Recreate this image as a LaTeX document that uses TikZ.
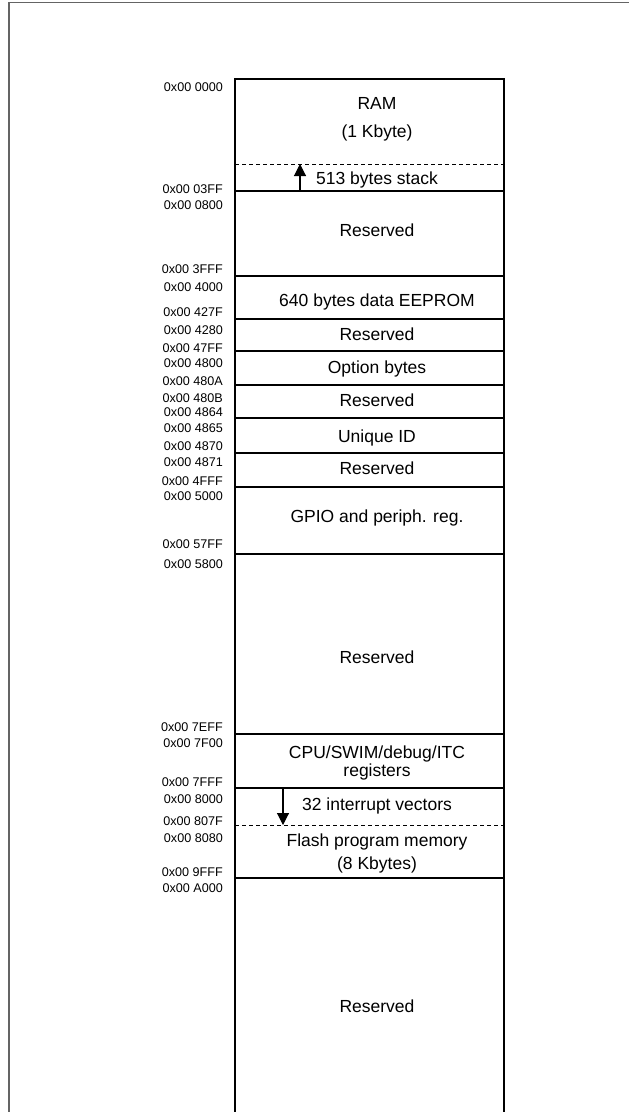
\documentclass[tikz,border=0pt]{standalone}
\usepackage{fontspec}
\setmainfont{Liberation Sans}
\usetikzlibrary{arrows.meta}
\definecolor{framegray}{RGB}{100,100,100}
\tikzset{
  boxline/.style={line width=1.4pt, black},
  dashline/.style={line width=0.9pt, black, dash pattern=on 4pt off 3pt},
  frameline/.style={line width=1.4pt, framegray},
  regtext/.style={font=\fontsize{17.5}{20}\selectfont, anchor=center, inner sep=0pt, text height=12.5pt, text depth=0pt},
  addr/.style={font=\fontsize{12.6}{14}\selectfont, anchor=east, inner sep=0pt, text height=9pt, text depth=0pt},
  ptr/.style={line width=1.1pt, -{Triangle[width=12pt,length=12pt]}}
}
\begin{document}
\begin{tikzpicture}[x=1pt,y=-1pt]
\useasboundingbox (0,0) rectangle (629,1112);
% outer frame
\draw[frameline] (9,1112) -- (9,2.5) -- (629,2.5);
% memory column
\draw[boxline] (235,1112) -- (235,79) -- (504,79) -- (504,1112);
\foreach \yy in {191,276,319,351,385,418,453,487,554,734,788,878}
  \draw[boxline] (235,\yy) -- (504,\yy);
\draw[dashline] (235,164) -- (504,164);
\draw[dashline] (235,825) -- (504,825);
% region texts
\node[regtext] (ram) at (377,103) {RAM};
\node[regtext] (ramsz) at (377,131) {(1 Kbyte)};
\node[regtext] (stack) at (377,178) {513 bytes stack};
\node[regtext] (res1) at (377,230) {Reserved};
\node[regtext] (eep) at (377,300) {640 bytes data EEPROM};
\node[regtext] (res2) at (377,334) {Reserved};
\node[regtext] (opt) at (377,367) {Option bytes};
\node[regtext] (res3) at (377,400) {Reserved};
\node[regtext] (uid) at (377,436) {Unique ID};
\node[regtext] (res4) at (377,468) {Reserved};
\node[regtext] (gpio) at (377,516) {GPIO and periph. reg.};
\node[regtext] (res5) at (377,657) {Reserved};
\node[regtext] (cpu) at (377,752) {CPU/SWIM/debug/ITC};
\node[regtext] (cpureg) at (377,770) {registers};
\node[regtext] (ivec) at (377,804) {32 interrupt vectors};
\node[regtext] (flash) at (377,840) {Flash program memory};
\node[regtext] (flashsz) at (377,863) {(8 Kbytes)};
\node[regtext] (res6) at (377,1006) {Reserved};
% addresses
\node[addr] (a0000) at (223,87) {0x00 0000};
\node[addr] (a03FF) at (223,189) {0x00 03FF};
\node[addr] (a0800) at (223,205) {0x00 0800};
\node[addr] (a3FFF) at (223,269) {0x00 3FFF};
\node[addr] (a4000) at (223,287) {0x00 4000};
\node[addr] (a427F) at (223,312) {0x00 427F};
\node[addr] (a4280) at (223,330) {0x00 4280};
\node[addr] (a47FF) at (223,348) {0x00 47FF};
\node[addr] (a4800) at (223,363) {0x00 4800};
\node[addr] (a480A) at (223,381) {0x00 480A};
\node[addr] (a480B) at (223,398) {0x00 480B};
\node[addr] (a4864) at (223,412) {0x00 4864};
\node[addr] (a4865) at (223,428) {0x00 4865};
\node[addr] (a4870) at (223,446) {0x00 4870};
\node[addr] (a4871) at (223,462) {0x00 4871};
\node[addr] (a4FFF) at (223,481) {0x00 4FFF};
\node[addr] (a5000) at (223,496) {0x00 5000};
\node[addr] (a57FF) at (223,544) {0x00 57FF};
\node[addr] (a5800) at (223,564) {0x00 5800};
\node[addr] (a7EFF) at (223,727) {0x00 7EFF};
\node[addr] (a7F00) at (223,743) {0x00 7F00};
\node[addr] (a7FFF) at (223,782) {0x00 7FFF};
\node[addr] (a8000) at (223,799) {0x00 8000};
\node[addr] (a807F) at (223,821) {0x00 807F};
\node[addr] (a8080) at (223,838) {0x00 8080};
\node[addr] (a9FFF) at (223,872) {0x00 9FFF};
\node[addr] (aA000) at (223,888) {0x00 A000};
% pointer arrows
\coordinate (stackbot) at (300,191);
\coordinate (stacktop) at (300,164);
\coordinate (vecstart) at (283,788);
\coordinate (vecend) at (283,825);
\draw[ptr] (stackbot) -- (stacktop);
\draw[ptr] (vecstart) -- (vecend);
\end{tikzpicture}
\end{document}
